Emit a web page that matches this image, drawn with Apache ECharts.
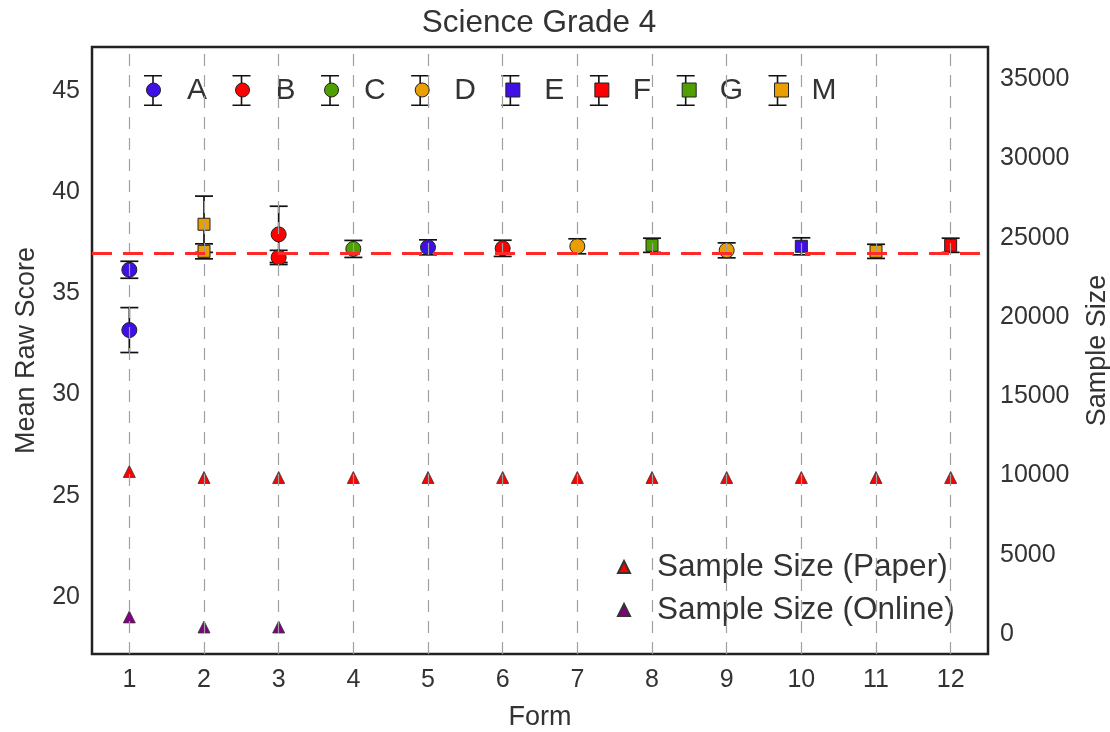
<!DOCTYPE html>
<html>
<head>
<meta charset="utf-8">
<script src="https://cdn.jsdelivr.net/npm/echarts@6/dist/echarts.min.js"></script>
<style>
html,body{margin:0;padding:0;background:#fff;overflow:hidden;}
#chart{width:1110px;height:732px;}
</style>
</head>
<body>
<div id="chart"></div>
<script>
// ---------------- data ----------------
const forms = ['1','2','3','4','5','6','7','8','9','10','11','12'];
const seriesNames = ['A','B','C','D','E','F','G','M'];
const seriesColors = ['#3f10e6','#ff0000','#4f9f00','#eb9e00','#3f10e6','#ff0000','#4f9f00','#eb9e00'];
const seriesSymbols = ['circle','circle','circle','circle','rect','rect','rect','rect'];
// points: [form, mean raw score, half error]
const ptsA = [[1, 36.17, 0.42], [1, 33.19, 1.11], [5, 37.28, 0.37]];
const ptsB = [[3, 37.92, 1.39], [3, 36.78, 0.35], [6, 37.23, 0.40]];
const ptsC = [[4, 37.20, 0.42]];
const ptsD = [[7, 37.33, 0.37], [9, 37.13, 0.37]];
const ptsE = [[10, 37.33, 0.42]];
const ptsF = [[12, 37.38, 0.35]];
const ptsG = [[8, 37.38, 0.35]];
const ptsM = [[2, 38.42, 1.39], [2, 37.08, 0.37], [11, 37.08, 0.35]];
const referenceMean = 37.0;
const paperN  = [10250, 9870, 9870, 9870, 9870, 9870, 9870, 9870, 9870, 9870, 9870, 9870];
const onlineN = [1075, 440, 440, null, null, null, null, null, null, null, null, null];
const leftTicks = [20, 25, 30, 35, 40, 45];
const rightTicks = [0, 5000, 10000, 15000, 20000, 25000, 30000, 35000];
const paperName = 'Sample Size (Paper)';
const onlineName = 'Sample Size (Online)';
// ---------------------------------------

const allPts = [ptsA, ptsB, ptsC, ptsD, ptsE, ptsF, ptsG, ptsM];
const FONT = 'Liberation Sans, Arial, sans-serif';
const TXT = '#333333';

const chart = echarts.init(document.getElementById('chart'), null, {renderer: 'canvas'});

const errData = [];
allPts.forEach(pts => pts.forEach(p => errData.push([p[0] - 1, p[1] - p[2], p[1] + p[2]])));

const series = [];
// vertical dashed guide lines (behind everything)
series.push({
  type: 'line', name: '_grid', data: [], z: 1, silent: true,
  markLine: {
    silent: true, symbol: 'none', label: {show: false},
    lineStyle: {color: '#a0a0a0', width: 1.2, type: [12, 9]},
    data: forms.map(f => ({xAxis: f}))
  }
});
// error bars
series.push({
  type: 'custom', name: '_err', z: 2, silent: true,
  data: errData,
  encode: {x: 0, y: [1, 2]},
  renderItem: function (params, api) {
    const x = api.value(0);
    const top = api.coord([x, api.value(2)]);
    const bot = api.coord([x, api.value(1)]);
    const hw = 9;
    const st = {stroke: '#111', lineWidth: 1.7};
    return {type: 'group', children: [
      {type: 'line', shape: {x1: top[0], y1: top[1], x2: bot[0], y2: bot[1]}, style: st},
      {type: 'line', shape: {x1: top[0] - hw, y1: top[1], x2: top[0] + hw, y2: top[1]}, style: st},
      {type: 'line', shape: {x1: bot[0] - hw, y1: bot[1], x2: bot[0] + hw, y2: bot[1]}, style: st}
    ]};
  }
});
seriesNames.forEach((n, i) => {
  series.push({
    type: 'scatter', name: n, z: 3,
    symbol: seriesSymbols[i],
    symbolSize: seriesSymbols[i] === 'circle' ? 15 : 12,
    itemStyle: {color: seriesColors[i], borderColor: '#222', borderWidth: 1, opacity: 1},
    data: allPts[i].map(p => [p[0] - 1, p[1]])
  });
});
series.push({
  type: 'scatter', name: paperName, yAxisIndex: 1, z: 3,
  symbol: 'triangle', symbolSize: 12,
  itemStyle: {color: '#ff0000', borderColor: '#333', borderWidth: 0.8, opacity: 1},
  data: paperN
});
series.push({
  type: 'scatter', name: onlineName, yAxisIndex: 1, z: 3,
  symbol: 'triangle', symbolSize: 12,
  itemStyle: {color: '#800080', borderColor: '#333', borderWidth: 0.8, opacity: 1},
  data: onlineN
});
// red reference line (on top)
series.push({
  type: 'line', name: '_ref', data: [], z: 5, silent: true,
  markLine: {
    silent: true, symbol: 'none', label: {show: false},
    lineStyle: {color: '#ff2a2a', width: 3, type: [20, 11]},
    data: [{yAxis: referenceMean}]
  }
});

function legendTextStyle(color, padLeft) {
  return {
    fontFamily: FONT, fontSize: 30, color: color, padding: [0, 0, 0, padLeft],
    rich: {w: {fontFamily: FONT, fontSize: 30, color: color, width: 30}}
  };
}

const option = {
  animation: false,
  backgroundColor: '#ffffff',
  title: {
    text: 'Science Grade 4', left: 539, top: 7, textAlign: 'center', padding: 0,
    textStyle: {fontFamily: FONT, fontSize: 31.5, fontWeight: 'normal', color: TXT}
  },
  grid: {
    left: 92, right: 122, top: 47, bottom: 78, show: true,
    outerBoundsMode: 'none', containLabel: false,
    borderColor: '#222', borderWidth: 2.5, backgroundColor: '#ffffff'
  },
  legend: [
    { // error-bar glyphs + labels
      data: seriesNames, selectedMode: false, orient: 'horizontal',
      left: 144, top: 75, padding: 0, itemGap: 25.5,
      itemWidth: 18, itemHeight: 31,
      icon: 'path://M0,0H18V1.6H9.8V29.4H18V31H0V29.4H8.2V1.6H0Z',
      itemStyle: {color: '#111', borderWidth: 0},
      formatter: n => '{w|' + n + '}',
      textStyle: legendTextStyle(TXT, 20)
    },
    { // coloured markers on top of the glyphs
      data: seriesNames.map((n, i) => ({name: n, icon: seriesSymbols[i] === 'circle' ? 'circle' : 'rect'})),
      selectedMode: false, orient: 'horizontal', z: 10,
      left: 146, top: 75, padding: 0, itemGap: 25.5,
      itemWidth: 14, itemHeight: 14,
      itemStyle: {borderColor: '#222', borderWidth: 1},
      formatter: n => '{w|' + n + '}',
      textStyle: legendTextStyle('rgba(0,0,0,0)', 24)
    },
    {
      data: [{name: paperName, icon: 'triangle'}, {name: onlineName, icon: 'triangle'}],
      selectedMode: false, orient: 'vertical',
      left: 617, top: 551, padding: 0, itemGap: 11,
      itemWidth: 12, itemHeight: 12,
      textStyle: {fontFamily: FONT, fontSize: 31.5, color: TXT, padding: [0, 0, 0, 22]}
    }
  ],
  xAxis: {
    type: 'category', data: forms, boundaryGap: true,
    name: 'Form', nameLocation: 'middle', nameGap: 50,
    nameTextStyle: {fontFamily: FONT, fontSize: 27, color: TXT},
    axisLine: {show: false}, axisTick: {show: false}, splitLine: {show: false},
    axisLabel: {fontFamily: FONT, fontSize: 25, color: TXT, margin: 14}
  },
  yAxis: [
    {
      type: 'value', min: 17.18, max: 47.18, splitNumber: 6, position: 'left',
      name: 'Mean Raw Score', nameLocation: 'middle', nameGap: 52,
      nameTextStyle: {fontFamily: FONT, fontSize: 27, color: TXT},
      axisLine: {show: false}, axisTick: {show: false}, splitLine: {show: false},
      axisLabel: {
        fontFamily: FONT, fontSize: 25, color: TXT, margin: 12,
        formatter: v => leftTicks.includes(Math.round(v * 1000) / 1000) ? String(Math.round(v)) : ''
      }
    },
    {
      type: 'value', min: -1266, max: 37025, splitNumber: 7, position: 'right',
      name: 'Sample Size', nameLocation: 'middle', nameGap: 96,
      nameTextStyle: {fontFamily: FONT, fontSize: 27, color: TXT},
      axisLine: {show: false}, axisTick: {show: false}, splitLine: {show: false},
      axisLabel: {
        fontFamily: FONT, fontSize: 25, color: TXT, margin: 12,
        formatter: v => rightTicks.includes(Math.round(v)) ? String(Math.round(v)) : ''
      }
    }
  ],
  series: series
};
chart.setOption(option);
</script>
</body>
</html>
